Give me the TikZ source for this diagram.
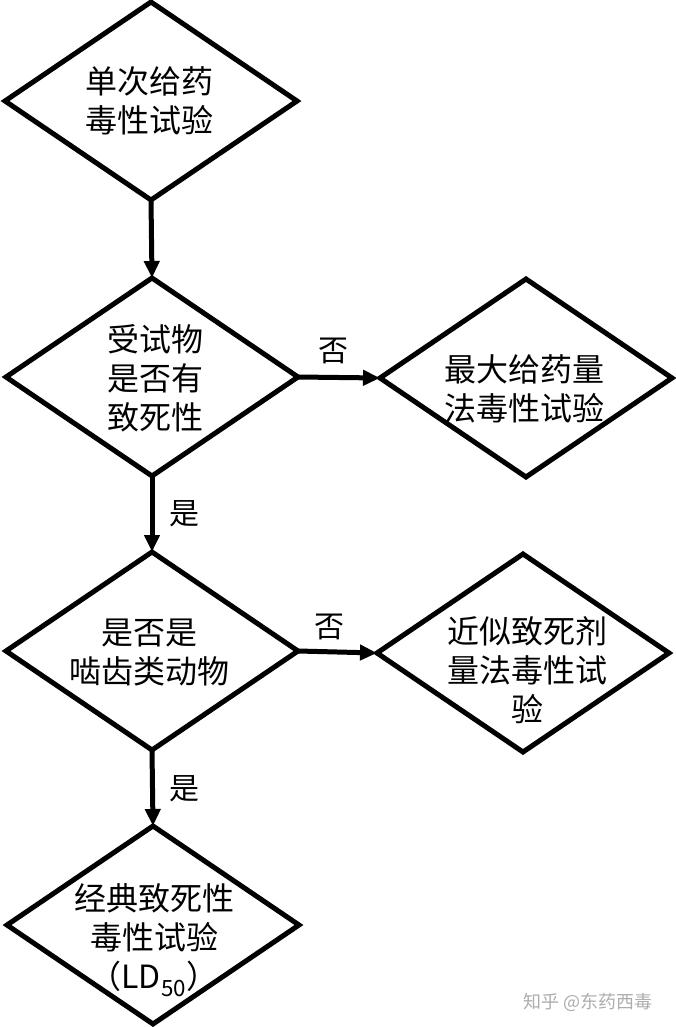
\documentclass[tikz,border=0pt]{standalone}
\usepackage{fontspec}
\setmainfont{Noto Sans CJK SC}
\usetikzlibrary{shapes.geometric,arrows.meta}
\tikzset{
  dia/.style={draw, diamond, line width=5pt, inner sep=0pt, outer sep=0pt,
    minimum width=292pt, minimum height=198pt},
  dtext/.style={align=center, font=\fontsize{32}{39}\selectfont, inner sep=0pt},
  arr/.style={line width=5pt, -{Triangle[length=17pt,width=15pt]}},
  lbl/.style={font=\fontsize{30}{36}\selectfont, inner sep=0pt},
  wm/.style={font=\fontsize{18}{22}\selectfont, text=black!32, inner sep=0pt}
}
\begin{document}
\begin{tikzpicture}[x=1pt,y=-1pt]
\useasboundingbox[fill=white] (0,0) rectangle (675,1027);
\node[dia] (d1) at (151,101) {};
\node[dtext] (t1) at (149,101) {单次给药\\毒性试验};
\node[dia] (d2) at (152,377) {};
\node[dtext] (t2) at (155,378) {受试物\\是否有\\致死性};
\node[dia] (d3) at (526,378) {};
\node[dtext] (t3) at (524,389) {最大给药量\\法毒性试验};
\node[dia] (d4) at (152,651) {};
\node[dtext] (t4) at (149,652) {是否是\\啮齿类动物};
\node[dia] (d5) at (523,653) {};
\node[dtext] (t5) at (527,670) {近似致死剂\\量法毒性试\\验};
\node[dia] (d6) at (153,925) {};
\node[dtext] (t6) at (154,940) {经典致死性\\毒性试验\\（LD\textsubscript{50}）};
\draw[arr] (d1.south) -- (d2.north);
\draw[arr] (d2.east) -- (d3.west);
\draw[arr] (d2.south) -- (d4.north);
\draw[arr] (d4.east) -- (d5.west);
\draw[arr] (d4.south) -- (d6.north);
\node[lbl] (n1) at (333,351) {否};
\node[lbl] (n2) at (329,627) {否};
\node[lbl] (y1) at (184,514) {是};
\node[lbl] (y2) at (184,789) {是};
\node[wm] (w) at (588,1002) {知乎 @东药西毒};
\end{tikzpicture}
\end{document}
